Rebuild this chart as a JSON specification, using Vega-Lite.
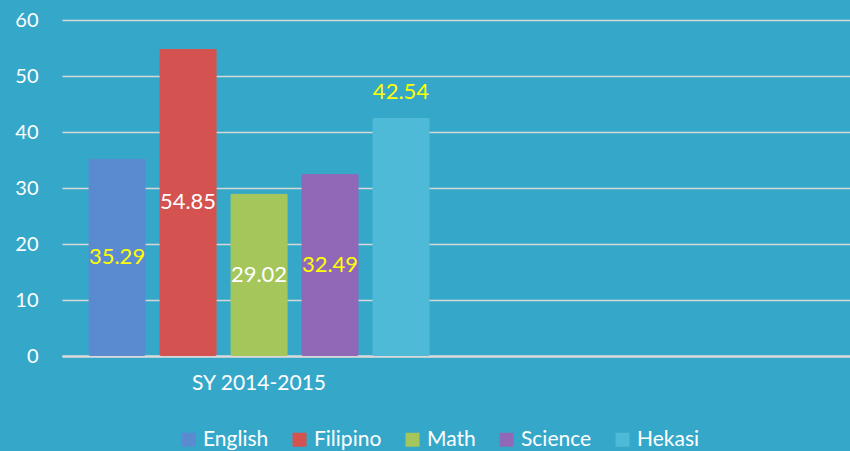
{
  "$schema": "https://vega.github.io/schema/vega-lite/v6.json",
  "width": 788,
  "height": 336,
  "autosize": {"type": "none"},
  "padding": {"left": 62, "top": 20, "right": 0, "bottom": 95},
  "background": "#35A8CA",
  "config": {"view": {"stroke": null}, "font": "Lato"},
  "data": {
    "values": [
      {"year": "SY 2014-2015", "subject": "English", "value": 35.29},
      {"year": "SY 2014-2015", "subject": "Filipino", "value": 54.85},
      {"year": "SY 2014-2015", "subject": "Math", "value": 29.02},
      {"year": "SY 2014-2015", "subject": "Science", "value": 32.49},
      {"year": "SY 2014-2015", "subject": "Hekasi", "value": 42.54}
    ]
  },
  "layer": [
    {
      "mark": {"type": "bar", "cornerRadius": 2},
      "encoding": {
        "x": {
          "field": "year", "type": "nominal",
          "scale": {"domain": ["SY 2014-2015", " "], "paddingInner": 0, "paddingOuter": 0},
          "axis": {"title": null, "labelAngle": 0, "labelFontSize": 21, "labelColor": "white", "domainColor": "#D9D9D9", "domainWidth": 2.5, "ticks": false, "labelPadding": 16, "grid": false}
        },
        "xOffset": {
          "field": "subject", "type": "nominal",
          "scale": {"domain": ["English", "Filipino", "Math", "Science", "Hekasi"], "paddingInner": 0.19, "paddingOuter": 0.37}
        },
        "y": {
          "field": "value", "type": "quantitative",
          "scale": {"domain": [0, 60]},
          "axis": {"title": null, "values": [0, 10, 20, 30, 40, 50, 60], "labelFontSize": 20, "labelColor": "white", "domain": false, "ticks": false, "gridColor": "#D6D6D6", "gridWidth": 1.3, "gridOpacity": 1, "labelPadding": 24}
        },
        "color": {
          "field": "subject", "type": "nominal",
          "scale": {"domain": ["English", "Filipino", "Math", "Science", "Hekasi"], "range": ["#5A8AD0", "#D4524F", "#A5C65A", "#9068B8", "#4FB9D8"]},
          "legend": {"title": null, "orient": "none", "legendX": 116, "legendY": 409, "direction": "horizontal", "symbolType": "square", "symbolSize": 196, "labelFontSize": 21, "labelColor": "white", "columnPadding": 20, "labelOffset": 4, "symbolStrokeWidth": 0, "symbolOpacity": 1}
        }
      }
    },
    {
      "transform": [{"filter": "datum.subject != 'Hekasi'"}],
      "mark": {"type": "text", "fontSize": 22, "baseline": "middle"},
      "encoding": {
        "x": {"field": "year", "type": "nominal"},
        "xOffset": {"field": "subject", "type": "nominal"},
        "y": {"field": "value", "type": "quantitative", "scale": {"domain": [0, 120]}, "axis": null},
        "text": {"field": "value", "type": "quantitative", "format": ".2f"},
        "color": {"condition": {"test": "datum.subject === 'English' || datum.subject === 'Science'", "value": "#FFFF00"}, "value": "#FFFFFF"}
      }
    },
    {
      "transform": [{"filter": "datum.subject == 'Hekasi'"}],
      "mark": {"type": "text", "fontSize": 22, "baseline": "middle", "dy": -26, "color": "#FFFF00"},
      "encoding": {
        "x": {"field": "year", "type": "nominal"},
        "xOffset": {"field": "subject", "type": "nominal"},
        "y": {"field": "value", "type": "quantitative", "scale": {"domain": [0, 60]}, "axis": null},
        "text": {"field": "value", "type": "quantitative", "format": ".2f"}
      }
    }
  ],
  "resolve": {"scale": {"y": "independent"}}
}
